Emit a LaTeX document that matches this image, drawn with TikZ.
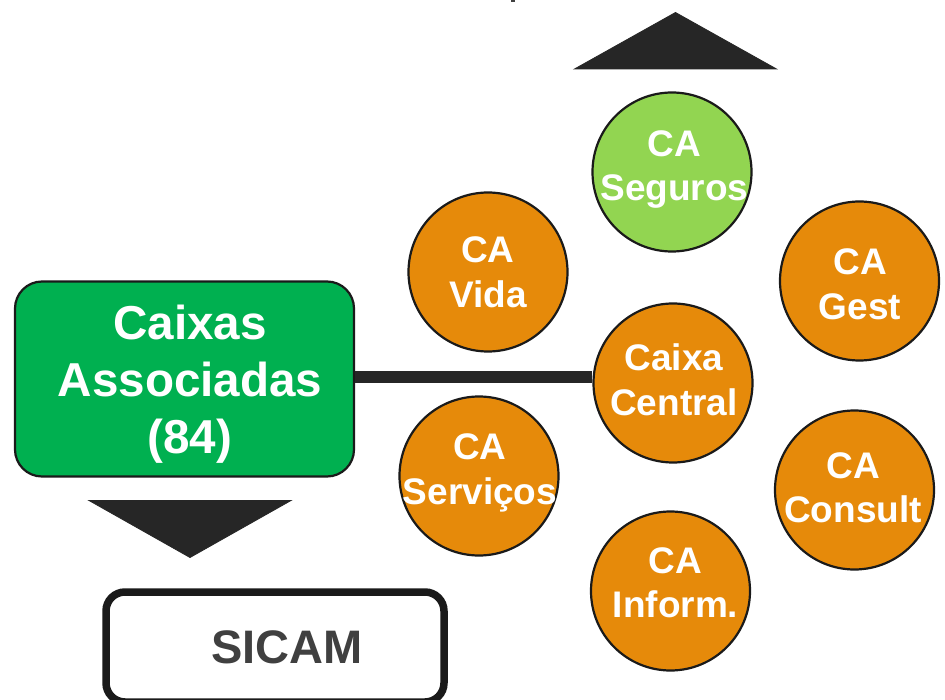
\documentclass[tikz,border=0pt]{standalone}
\usepackage{fontspec}
\setmainfont{Liberation Sans}
\definecolor{orangeC}{HTML}{E68A0A}
\definecolor{greenL}{HTML}{92D551}
\definecolor{greenD}{HTML}{00B050}
\definecolor{darkT}{HTML}{262626}
\definecolor{edgeK}{HTML}{1A1A1A}
\definecolor{grayT}{HTML}{404040}
\tikzset{
  circ/.style={circle,draw=edgeK,line width=2.2pt,fill=orangeC,minimum size=159pt,inner sep=0pt},
  ctext/.style={text=white,align=center,inner sep=0pt,font=\fontsize{37}{44.5}\selectfont\bfseries},
  tri/.style={fill=darkT,draw=darkT,line width=0.8pt,line join=miter},
}
\begin{document}
\begin{tikzpicture}[x=1pt,y=-1pt]
\useasboundingbox (0,0) rectangle (945,700);
\fill[white] (0,0) rectangle (945,700);
\fill[grayT] (510.5,0) rectangle (515,2.5);
\node[circ] (central) at (673,383) {};
\node[draw=edgeK,line width=2.2pt,fill=greenD,rounded corners=27pt,minimum width=339pt,minimum height=195pt,inner sep=0pt] (caixas) at (184.5,379) {};
\draw[darkT,line width=12pt] (caixas.east |- 0,377) -- (central.west |- 0,377);
\node[circ,fill=greenL] (seguros) at (672,172) {};
\node[circ] (vida) at (488,272) {};
\node[circ] (gest) at (859.5,281) {};
\node[circ] (servicos) at (479,476) {};
\node[circ] (consult) at (854.5,490) {};
\node[circ] (inform) at (670.5,591) {};
\node[ctext] (tcentral) at (674,380) {Caixa\\Central};
\node[ctext] (tseguros) at (674.5,169.5) {CA\\Seguros};
\node[ctext] (tvida) at (488,272.5) {CA\\Vida};
\node[ctext] (tgest) at (860,284.5) {CA\\Gest};
\node[ctext] (tservicos) at (480,473) {CA\\Serviços};
\node[ctext] (tconsult) at (853,488) {CA\\Consult};
\node[ctext] (tinform) at (675.5,583) {CA\\Inform.};
\node[text=white,align=center,inner sep=0pt,font=\fontsize{47.6}{57}\selectfont\bfseries] (tcaixas) at (190,384) {Caixas\\Associadas\\(84)};
\draw[tri] (574.5,69) -- (675.5,12.5) -- (776.5,69) -- cycle;
\draw[tri] (89,500.5) -- (291,500.5) -- (190,557.5) -- cycle;
\node[draw=edgeK,line width=7.5pt,fill=white,rounded corners=19pt,minimum width=338pt,minimum height=110pt,inner sep=0pt] (sicam) at (275,647) {};
\node[text=grayT,font=\fontsize{47}{55}\selectfont\bfseries,anchor=center] (sicamt) at (287,647) {SICAM};
\end{tikzpicture}
\end{document}
